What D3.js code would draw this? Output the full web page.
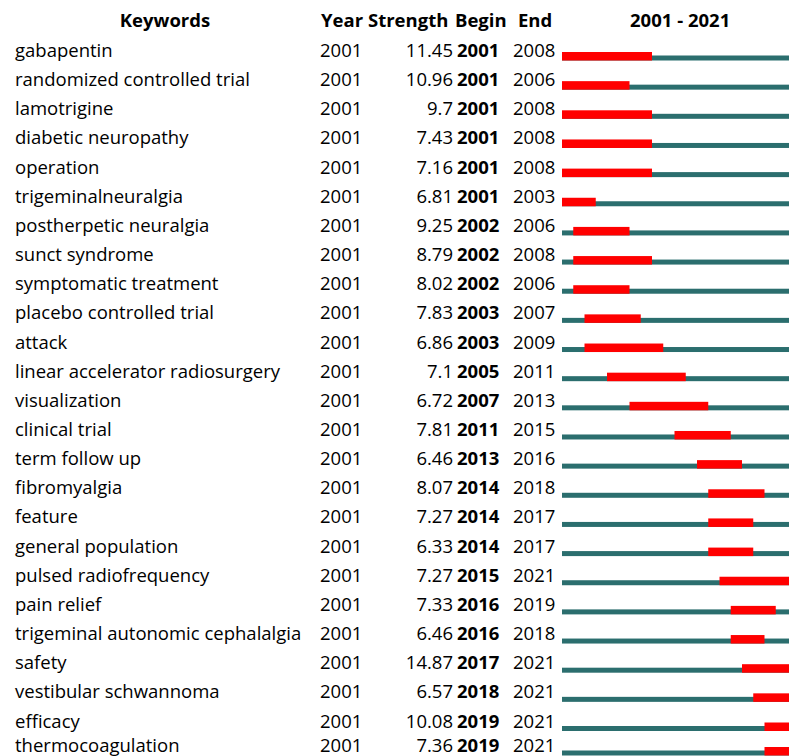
<!DOCTYPE html>
<html>
<head>
<meta charset="utf-8">
<script src="https://cdn.jsdelivr.net/npm/d3@7"></script>
<style>
  body { margin: 0; background: #fff; }
  svg { display: block; }
  text { font-family: "Open Sans", "Noto Sans", sans-serif; fill: #000; }
</style>
</head>
<body>
<div id="chart"></div>
<script>
// burst keywords, one entry per row
var keywords = ["gabapentin", "randomized controlled trial", "lamotrigine", "diabetic neuropathy",
  "operation", "trigeminalneuralgia", "postherpetic neuralgia", "sunct syndrome",
  "symptomatic treatment", "placebo controlled trial", "attack", "linear accelerator radiosurgery",
  "visualization", "clinical trial", "term follow up", "fibromyalgia", "feature",
  "general population", "pulsed radiofrequency", "pain relief",
  "trigeminal autonomic cephalalgia", "safety", "vestibular schwannoma", "efficacy",
  "thermocoagulation"];
var years = [2001, 2001, 2001, 2001, 2001, 2001, 2001, 2001, 2001, 2001, 2001, 2001, 2001,
  2001, 2001, 2001, 2001, 2001, 2001, 2001, 2001, 2001, 2001, 2001, 2001];
var strengths = ["11.45", "10.96", "9.7", "7.43", "7.16", "6.81", "9.25", "8.79", "8.02", "7.83",
  "6.86", "7.1", "6.72", "7.81", "6.46", "8.07", "7.27", "6.33", "7.27", "7.33", "6.46",
  "14.87", "6.57", "10.08", "7.36"];
var begins = [2001, 2001, 2001, 2001, 2001, 2001, 2002, 2002, 2002, 2003, 2003, 2005, 2007,
  2011, 2013, 2014, 2014, 2014, 2015, 2016, 2016, 2017, 2018, 2019, 2019];
var ends = [2008, 2006, 2008, 2008, 2008, 2003, 2006, 2008, 2006, 2007, 2009, 2011, 2013,
  2015, 2016, 2018, 2017, 2017, 2021, 2019, 2018, 2021, 2021, 2021, 2021];
var firstYear = 2001, lastYear = 2021;

var width = 789, height = 756;
var fontSize = 18.5;
var teal = "#2b6e6e", red = "#ff0000";

var rows = keywords.map(function(k, i) {
  return {keyword: k, year: years[i], strength: strengths[i], begin: begins[i], end: ends[i], i: i};
});

var svg = d3.select("#chart").append("svg")
  .attr("width", width)
  .attr("height", height);

// row baselines (the last row sits a little tighter in the original)
var y = d3.scaleLinear()
  .domain([0, rows.length - 2, rows.length - 1])
  .range([57, 727.5, 752]);

// one band per year on the timeline
var x = d3.scaleLinear()
  .domain([firstYear, lastYear + 1])
  .range([562, 562 + 11.25 * (lastYear - firstYear + 1)]);

// header
var header = svg.append("g").attr("font-weight", "bold").style("font-size", fontSize + "px");
header.append("text").attr("x", 165).attr("y", 27).attr("text-anchor", "middle").text("Keywords");
header.append("text").attr("x", 321).attr("y", 27).text("Year");
header.append("text").attr("x", 368).attr("y", 27).text("Strength");
header.append("text").attr("x", 455).attr("y", 27).text("Begin");
header.append("text").attr("x", 518).attr("y", 27).text("End");
header.append("text").attr("x", (x.range()[0] + x.range()[1]) / 2).attr("y", 27)
  .attr("text-anchor", "middle").text(firstYear + " - " + lastYear);

var g = svg.selectAll(".row").data(rows).enter().append("g")
  .attr("class", "row")
  .attr("transform", function(d) { return "translate(0," + y(d.i) + ")"; })
  .style("font-size", fontSize + "px");

g.append("text").attr("x", 15).text(function(d) { return d.keyword; });
g.append("text").attr("x", 320).text(function(d) { return d.year; });
g.append("text").attr("x", 453).attr("text-anchor", "end").text(function(d) { return d.strength; });
g.append("text").attr("x", 457).attr("font-weight", "bold").text(function(d) { return d.begin; });
g.append("text").attr("x", 513).text(function(d) { return d.end; });

// whole period
g.append("rect")
  .attr("x", x(firstYear))
  .attr("y", -1.5)
  .attr("width", x(lastYear + 1) - x(firstYear))
  .attr("height", 5)
  .attr("fill", teal);

// burst period
g.append("rect")
  .attr("x", function(d) { return x(d.begin); })
  .attr("y", -5)
  .attr("width", function(d) { return x(d.end + 1) - x(d.begin); })
  .attr("height", 8.5)
  .attr("fill", red);
</script>
</body>
</html>
